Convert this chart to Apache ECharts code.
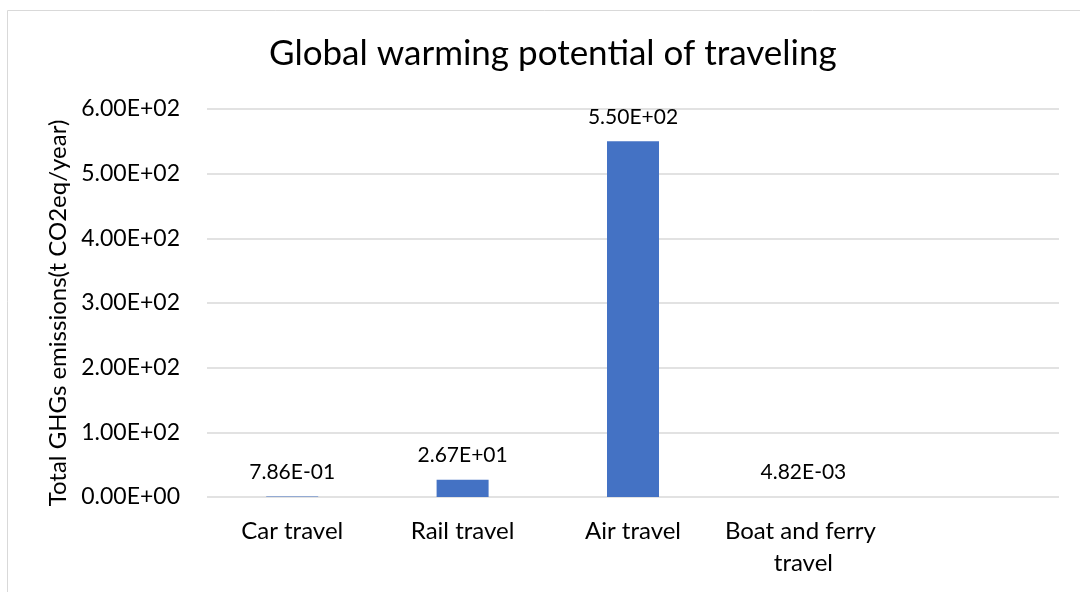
<!DOCTYPE html>
<html>
<head>
<meta charset="utf-8">
<script src="https://cdn.jsdelivr.net/npm/echarts@6/dist/echarts.min.js"></script>
<style>
  html, body { margin: 0; padding: 0; background: #fff; }
  #chart { width: 1080px; height: 592px; }
</style>
</head>
<body>
<div id="chart"></div>
<script>
// categories (the last slot is empty in the original chart)
const categories = ['Car travel', 'Rail travel', 'Air travel', 'Boat and ferry travel', ''];
// total GHG emissions, t CO2eq / year
const emissions = [0.786, 26.7, 550, 0.00482];

// 5.50E+02 style numbers
function sci(v) {
    const parts = Number(v).toExponential(2).split('e');
    const sign = parts[1][0];
    const exp = parts[1].slice(1).padStart(2, '0');
    return parts[0] + 'E' + sign + exp;
}

const font = 'Lato, "Open Sans", sans-serif';

const chart = echarts.init(document.getElementById('chart'));
chart.setOption({
    animation: false,
    title: {
        text: 'Global warming potential of traveling',
        left: 264,
        top: 31,
        textStyle: { fontFamily: font, fontSize: 35, fontWeight: 'normal', color: '#000' }
    },
    grid: { left: 207, right: 21, top: 109, bottom: 95 },
    xAxis: {
        type: 'category',
        data: categories,
        axisLine: { show: false },
        axisTick: { show: false },
        axisLabel: {
            fontFamily: font,
            fontSize: 24,
            color: '#000',
            margin: 18,
            lineHeight: 32,
            width: 165,
            overflow: 'break',
            interval: 0
        }
    },
    yAxis: {
        type: 'value',
        min: 0,
        max: 600,
        interval: 100,
        name: 'Total GHGs emissions(t CO2eq/year)',
        nameLocation: 'middle',
        nameGap: 136,
        nameTextStyle: { fontFamily: font, fontSize: 24, color: '#000', padding: [0, 20, 0, 0] },
        axisLine: { show: false },
        axisTick: { show: false },
        axisLabel: {
            fontFamily: font,
            fontSize: 23,
            color: '#000',
            margin: 27,
            formatter: sci
        },
        splitLine: { lineStyle: { color: '#d9d9d9', width: 1.5 } }
    },
    series: [{
        type: 'bar',
        data: emissions,
        barWidth: 52,
        itemStyle: { color: '#4472c4' },
        label: {
            show: true,
            position: 'top',
            distance: 14,
            fontFamily: font,
            fontSize: 21,
            color: '#000',
            formatter: (p) => sci(p.value)
        }
    }],
    graphic: [{
        type: 'rect',
        shape: { x: 7.5, y: 10.5, width: 1100, height: 620 },
        style: { fill: 'none', stroke: '#d9d9d9', lineWidth: 1 },
        silent: true
    }]
});
</script>
</body>
</html>
